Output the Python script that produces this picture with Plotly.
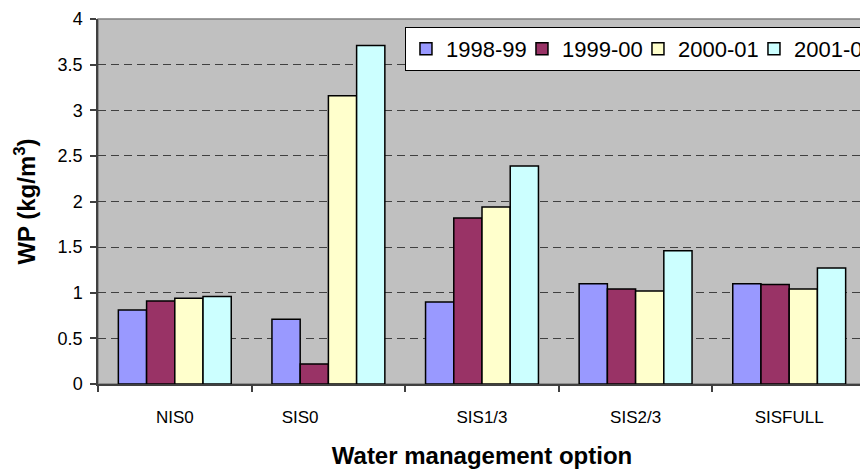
import plotly.graph_objects as go

categories = ["NIS0", "SIS0", "SIS1/3", "SIS2/3", "SISFULL"]
tick_labels = ["NIS0", "SIS0" + "\u00a0" * 12, "SIS1/3", "SIS2/3", "SISFULL"]
series_names = ["1998-99", "1999-00", "2000-01", "2001-02"]
wp_1998_99 = [0.81, 0.71, 0.90, 1.10, 1.10]
wp_1999_00 = [0.91, 0.22, 1.82, 1.04, 1.09]
wp_2000_01 = [0.94, 3.16, 1.94, 1.02, 1.04]
wp_2001_02 = [0.96, 3.71, 2.39, 1.46, 1.27]
colors = ["#9999FF", "#993366", "#FFFFCC", "#CCFFFF"]
y_ticks = [0, 0.5, 1, 1.5, 2, 2.5, 3, 3.5, 4]
y_tick_text = ["0", "0.5", "1", "1.5", "2", "2.5", "3", "3.5", "4"]

series_values = [wp_1998_99, wp_1999_00, wp_2000_01, wp_2001_02]

fig = go.Figure()
for name, vals, col in zip(series_names, series_values, colors):
    fig.add_trace(go.Bar(
        x=categories, y=vals, name=name,
        marker=dict(color=col, line=dict(color="black", width=1.5)),
    ))

font_main = "Liberation Sans, Arial, sans-serif"

fig.update_layout(
    width=868, height=470,
    margin=dict(l=90, r=10, t=11, b=94, autoexpand=False),
    paper_bgcolor="white",
    plot_bgcolor="#C0C0C0",
    barmode="group",
    bargap=0.265,
    bargroupgap=0,
    font=dict(family=font_main, color="black"),
    showlegend=True,
    legend=dict(
        orientation="h",
        x=0.3997, y=0.978, xanchor="left", yanchor="top",
        bgcolor="white", bordercolor="black", borderwidth=1,
        font=dict(size=22, family=font_main),
        entrywidth=71, entrywidthmode="pixels",
        tracegroupgap=0,
    ),
    xaxis=dict(
        type="category",
        tickmode="array", tickvals=categories, ticktext=tick_labels,
        tickson="boundaries",
        ticks="outside", ticklen=6, tickcolor="#404040", tickwidth=1.5,
        showline=True, linecolor="#404040", linewidth=1.5,
        showgrid=False,
        tickfont=dict(size=17, family=font_main),
        ticklabelstandoff=17,
        title=dict(text="<b>Water management option</b>",
                   font=dict(size=24, family=font_main), standoff=21),
    ),
    yaxis=dict(
        range=[0, 4],
        tickmode="array", tickvals=y_ticks, ticktext=y_tick_text,
        ticks="outside", ticklen=6, tickcolor="#404040", tickwidth=1.5,
        showline=True, linecolor="#404040", linewidth=1.5,
        showgrid=True, gridcolor="#404040", gridwidth=1, griddash="8px,5px",
        zeroline=False,
        tickfont=dict(size=18, family=font_main),
        ticklabelstandoff=4,
        title=dict(text="<b>WP (kg/m<sup>3</sup>)</b>",
                   font=dict(size=24, family=font_main), standoff=15),
    ),
    shapes=[dict(type="rect", xref="paper", yref="paper", x0=0, x1=1, y0=0, y1=1,
                 line=dict(color="#808080", width=1.5), layer="below")],
)

fig.write_html("out.html")
